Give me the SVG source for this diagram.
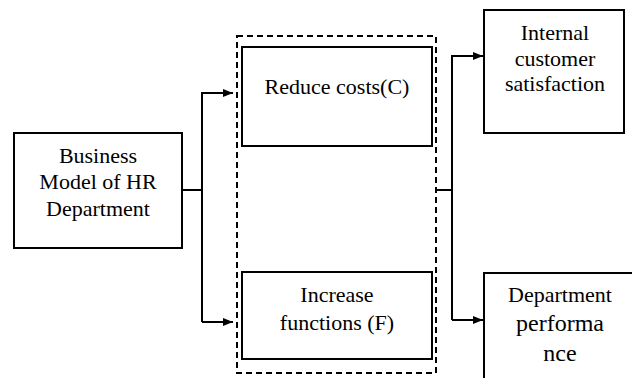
<svg xmlns="http://www.w3.org/2000/svg" width="632" height="378" viewBox="0 0 632 378">
<style>
.box{fill:#fff;stroke:#000;stroke-width:2}
.dash{fill:none;stroke:#000;stroke-width:2;stroke-dasharray:6 4}
.t{font-family:"Liberation Serif","Times New Roman",serif;font-size:22px;fill:#000;text-anchor:middle}
.big{font-size:24px}
.ln{fill:none;stroke:#000;stroke-width:2}
</style>
<defs>
<marker id="ah" viewBox="0 0 10 8" refX="10" refY="4" markerWidth="10" markerHeight="8" markerUnits="userSpaceOnUse" orient="auto">
<path d="M0,0 L10,4 L0,8 Z" fill="#000"/>
</marker>
</defs>
<rect width="632" height="378" fill="#fff"/>
<g id="group-box">
<rect class="dash" x="237" y="36" width="199" height="337"/>
</g>
<g id="business">
<rect class="box" x="14" y="133" width="168" height="115"/>
<text class="t" x="98" y="163">Business</text>
<text class="t" x="98" y="189">Model of HR</text>
<text class="t" x="98" y="216">Department</text>
</g>
<g id="reduce">
<rect class="box" x="242" y="47" width="190" height="99"/>
<text class="t" x="337" y="94">Reduce costs(C)</text>
</g>
<g id="increase">
<rect class="box" x="242" y="272" width="190" height="87"/>
<text class="t" x="337" y="302">Increase</text>
<text class="t" x="337" y="330">functions (F)</text>
</g>
<g id="internal">
<rect class="box" x="484" y="10" width="140" height="123"/>
<text class="t" x="555" y="40">Internal</text>
<text class="t" x="555" y="66">customer</text>
<text class="t" x="555" y="91">satisfaction</text>
</g>
<g id="performance">
<rect class="box" x="484" y="273" width="160" height="120"/>
<text class="t" x="560" y="302">Department</text>
<text class="t big" x="560" y="331">performa</text>
<text class="t big" x="560" y="361">nce</text>
</g>
<g id="connectors">
<path class="ln" d="M182,190 H202"/>
<path class="ln" d="M202,322 V93 H233" marker-end="url(#ah)"/>
<path class="ln" d="M202,322 H233" marker-end="url(#ah)"/>
<path class="ln" d="M436,190 H452"/>
<path class="ln" d="M452,320 V56 H483" marker-end="url(#ah)"/>
<path class="ln" d="M452,320 H483" marker-end="url(#ah)"/>
</g>
</svg>
